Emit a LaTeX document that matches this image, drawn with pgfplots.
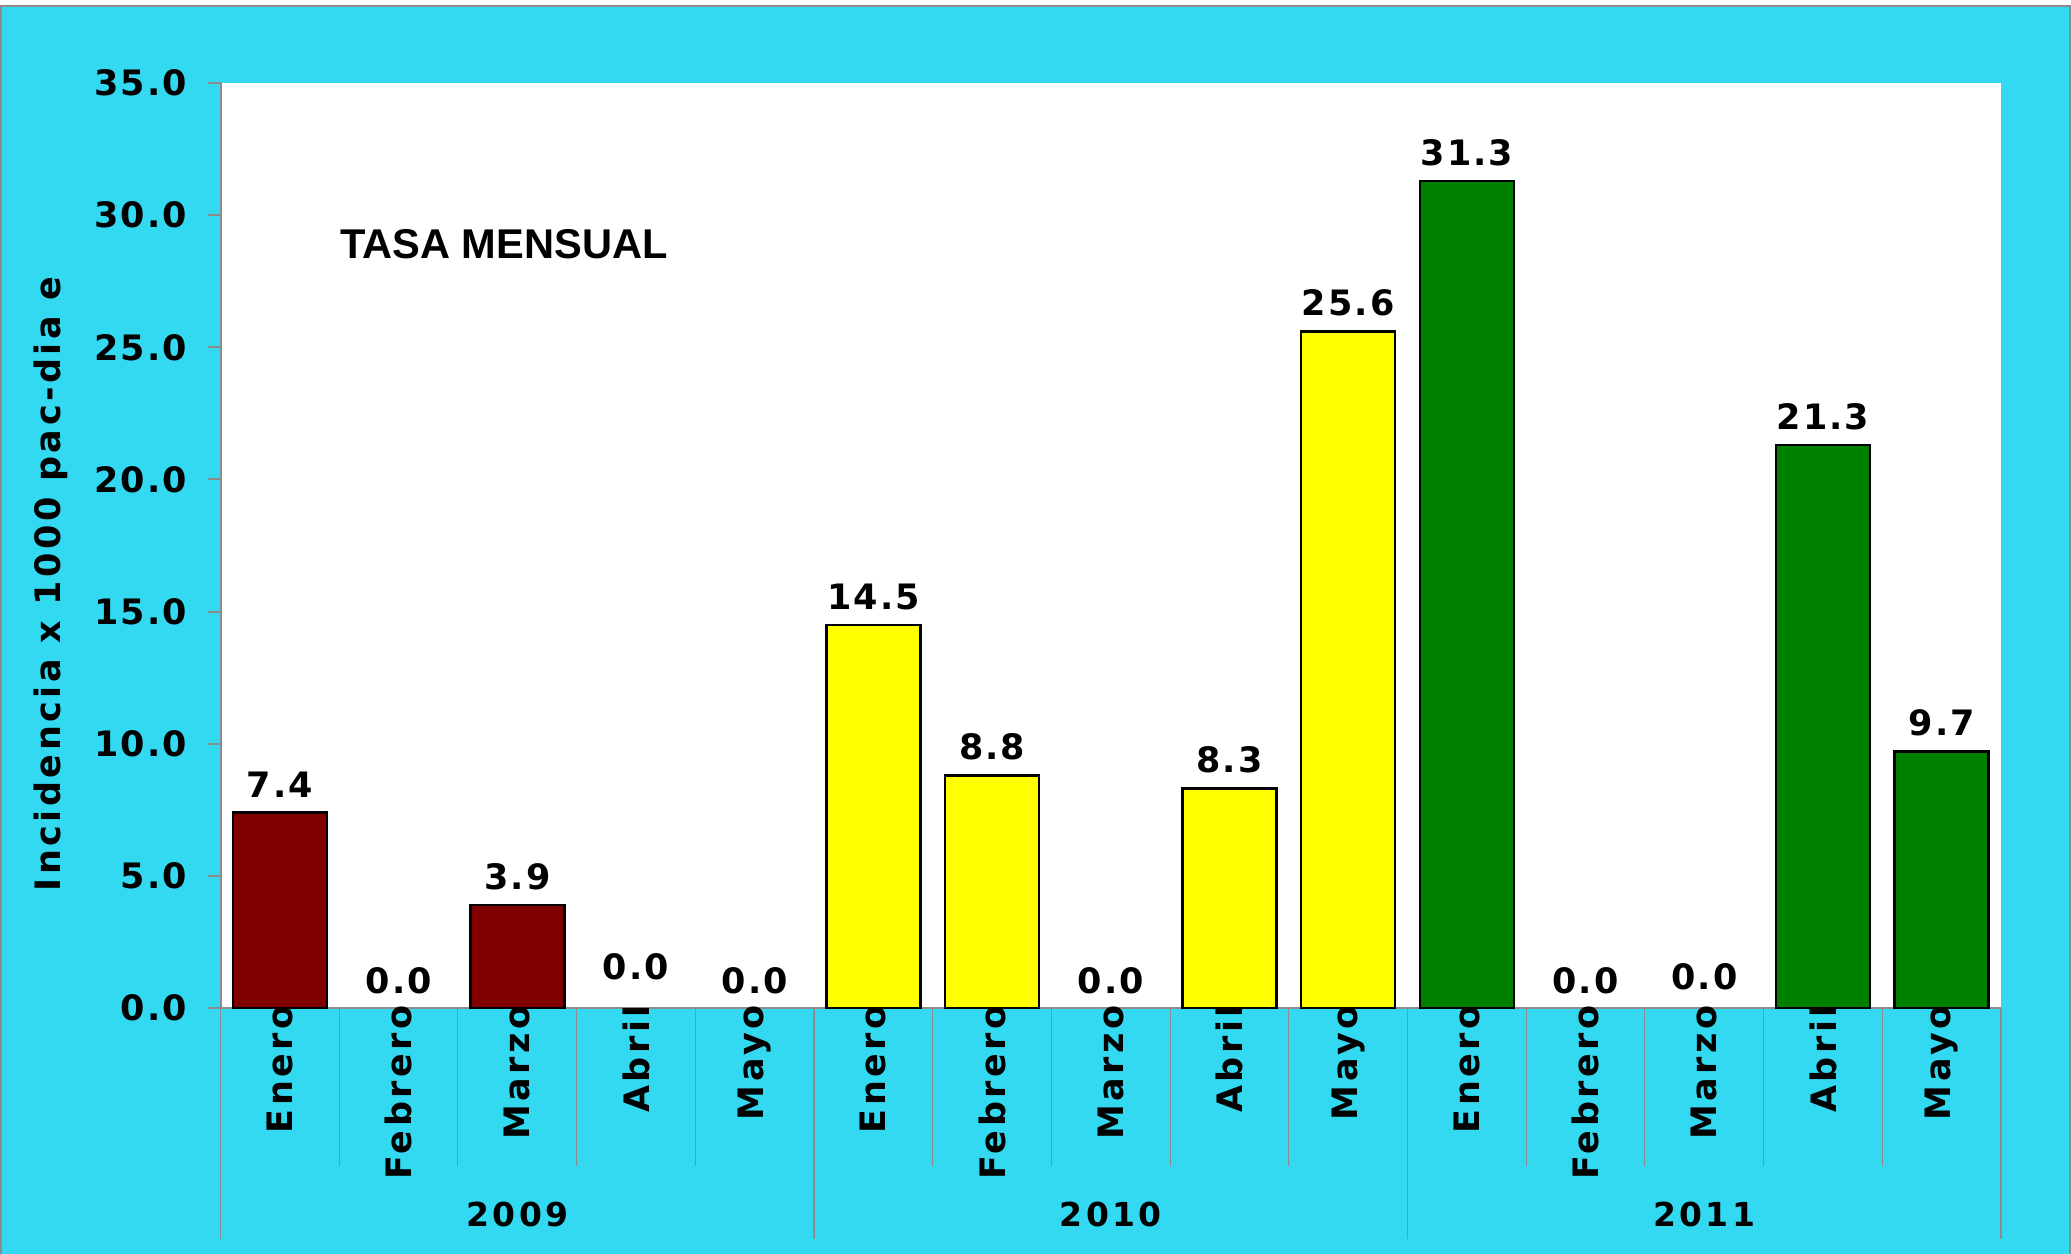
\documentclass[border=0pt]{standalone}
\usepackage{pgfplots}
\pgfplotsset{compat=1.18}
\usepackage{fontspec}
\setmainfont{DejaVu Sans}
\newfontfamily\dvs[LetterSpace=6]{DejaVu Sans}
\newfontfamily\dvswide[LetterSpace=10]{DejaVu Sans}
\newfontfamily\arialb{Liberation Sans}
\definecolor{fondo}{RGB}{51,217,240}
\definecolor{rojo}{RGB}{128,0,0}
\definecolor{amarillo}{RGB}{255,255,0}
\definecolor{verde}{RGB}{0,128,0}
\definecolor{linea}{RGB}{140,140,140}
\newcommand{\lab}{\dvs\bfseries\fontsize{17.5}{20}\selectfont}
\newcommand{\mes}{\dvswide\bfseries\fontsize{17.5}{20}\selectfont}
\newcommand{\yr}{\dvswide\bfseries\fontsize{16.5}{19}\selectfont}

\begin{document}
\begin{tikzpicture}
\path[use as bounding box] (-110.3pt,-122.5pt) rectangle (925.2pt,504pt);
\fill[white] (-110.3pt,-122.5pt) rectangle (925.2pt,504pt);
\filldraw[fill=fondo, draw=linea, line width=1pt] (-109.8pt,-125pt) rectangle (924.7pt,501pt);
\begin{axis}[
  width=890.2pt, height=462.5pt, scale only axis,
  xmin=-0.5, xmax=14.5, ymin=0, ymax=35,
  ybar, bar width=47pt, bar shift=0pt,
  axis background/.style={fill=white},
  axis x line*=bottom, axis y line*=left,
  axis line style={linea, line width=1pt, -},
  xtick={0,...,14},
  xticklabels={Enero,Febrero,Marzo,Abril,Mayo,Enero,Febrero,Marzo,Abril,Mayo,Enero,Febrero,Marzo,Abril,Mayo},
  x tick style={draw=none},
  xticklabel shift=-8pt,
  xticklabel style={rotate=90, anchor=east, inner sep=0pt, font=\mes},
  ytick={0,5,...,35},
  y tick style={linea, line width=1pt},
  tick align=outside, major tick length=6.5pt,
  yticklabel style={font=\lab, inner sep=0pt, anchor=east, xshift=-10pt},
  /pgf/number format/fixed, /pgf/number format/fixed zerofill,
  /pgf/number format/precision=1, /pgf/number format/assume math mode=true,
  nodes near coords,
  every node near coord/.append style={font=\lab, text=black, inner sep=0pt, anchor=south, yshift=7pt},
  clip=false,
]
\addplot[fill=rojo, draw=black, line width=1.2pt] coordinates {(0,7.4) (2,3.9)};
\addplot[fill=amarillo, draw=black, line width=1.2pt] coordinates {(5,14.5) (6,8.8) (8,8.3) (9,25.6)};
\addplot[fill=verde, draw=black, line width=1.2pt] coordinates {(10,31.3) (13,21.3) (14,9.7)};
\addplot[draw=none, fill=none] coordinates {(1,0) (4,0) (7,0) (11,0)};
\addplot[draw=none, fill=none, every node near coord/.append style={yshift=7pt}] coordinates {(3,0)};
\addplot[draw=none, fill=none, every node near coord/.append style={yshift=2pt}] coordinates {(12,0)};
\end{axis}
\foreach \k in {1,2,3,4,6,7,8,9,11,12,13,14}
  \draw[linea, line width=0.5pt] ({\k*59.347pt},0) -- ({\k*59.347pt},-79pt);
\foreach \k in {0,5,10,15}
  \draw[linea, line width=0.7pt] ({\k*59.347pt},0) -- ({\k*59.347pt},-115.5pt);
\node[anchor=base, font=\yr] at (148.4pt,-109pt) {2009};
\node[anchor=base, font=\yr] at (445.1pt,-109pt) {2010};
\node[anchor=base, font=\yr] at (741.8pt,-109pt) {2011};
\node[rotate=90, anchor=base, font=\mes] at (-79.8pt,212pt) {Incidencia x 1000 pac-dia e};
\node[anchor=base, font=\arialb\bfseries\fontsize{20.8}{24}\selectfont] at (141.7pt,374.5pt) {TASA MENSUAL};
\end{tikzpicture}
\end{document}
